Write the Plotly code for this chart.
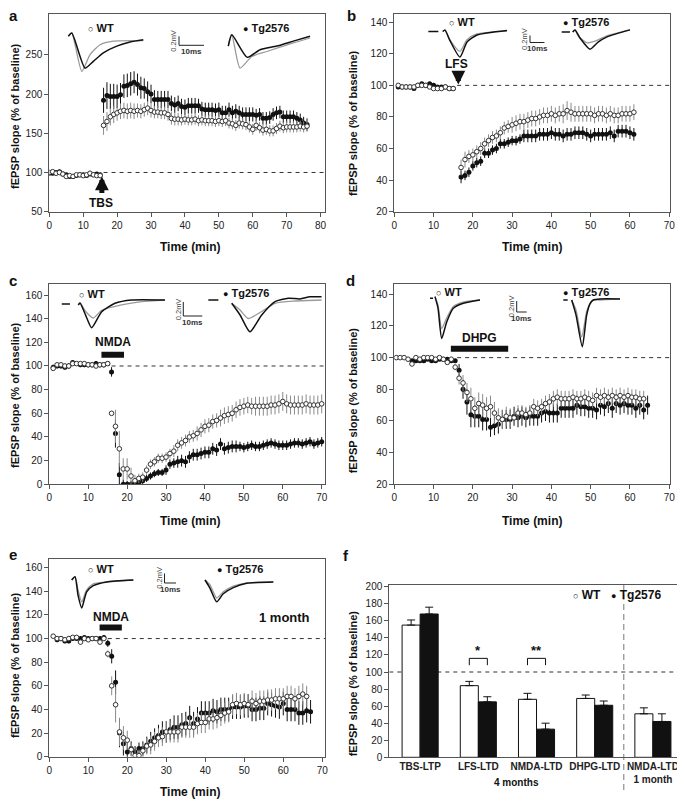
import plotly.graph_objects as go

PAGE_W, PAGE_H = 685, 801
OFF = 8  # default page body margin
W, H = PAGE_W - OFF, PAGE_H - OFF
FONT = "Liberation Sans, Arial, Helvetica, sans-serif"
INK = "#111111"
FRAME = "#555555"
GREY_ERR = "#8a8a8a"
GREY_TRACE = "#9a9a9a"

# ======================= DATA =======================
# ---- panel a : TBS-LTP (time in min, % of baseline) ----
a_t = list(range(0, 77))
a_wt = [100, 101, 99, 100, 98, 95, 96, 95, 97, 97, 96, 97, 99, 97, 96, 96,
        160, 165, 171, 174, 176, 178, 179, 178, 179, 178,
        179, 178, 180, 182, 179, 177, 177, 176, 176, 174,
        169, 168, 168, 167, 168, 167, 167, 168, 166, 167,
        166, 166, 166, 165, 166, 165, 166, 163, 162, 160,
        163, 162, 161, 158, 155, 160, 157, 154, 155, 153,
        153, 156, 159, 157, 158, 158, 158, 158, 159, 158,
        159]
a_wt_err = [2, 2, 2, 2, 2, 2, 2, 2, 2, 2, 2, 2, 2, 2, 2, 2,
            12, 12, 11, 11, 10, 10, 10, 10, 10, 10,
            9, 9, 9, 9, 9, 8, 8, 8, 8, 8,
            8, 8, 8, 7, 7, 7, 7, 7, 7, 7,
            7, 7, 7, 7, 7, 7, 7, 7, 7, 7,
            7, 7, 7, 7, 7, 7, 7, 7, 7, 7,
            7, 7, 7, 7, 7, 7, 7, 7, 7, 7,
            7]
a_tg = [99, 99, 100, 101, 98, 97, 95, 95, 96, 97, 97, 96, 98, 97, 98, 97,
        192, 198, 197, 197, 197, 199, 210, 211, 213, 215,
        212, 208, 207, 203, 200, 193, 193, 193, 193, 193,
        188, 186, 188, 184, 183, 185, 185, 185, 185, 181,
        180, 180, 180, 179, 180, 176, 176, 180, 176, 178,
        176, 174, 174, 174, 174, 173, 174, 169, 169, 170,
        174, 176, 177, 171, 171, 171, 171, 169, 167, 163,
        161]
a_tg_err = [2, 2, 2, 2, 2, 2, 2, 2, 2, 2, 2, 2, 2, 2, 2, 2,
            16, 17, 16, 16, 15, 15, 15, 15, 15, 14,
            14, 14, 13, 13, 12, 12, 11, 11, 11, 11,
            10, 10, 10, 10, 10, 10, 10, 10, 9, 9,
            9, 9, 9, 9, 9, 9, 9, 9, 9, 9,
            9, 9, 9, 9, 9, 8, 8, 8, 8, 8,
            8, 8, 8, 8, 8, 8, 8, 8, 8, 8,
            8]

# ---- panel b : LFS-LTD ----
b_t = list(range(1, 16)) + list(range(17, 62))
b_wt = [100, 99, 99, 99, 99, 100, 100, 100, 99, 98, 98, 98, 99, 98, 98,
        48, 53, 55, 56, 58, 60, 63, 65, 67, 68,
        70, 73, 74, 75, 76, 77, 77, 78, 79, 79,
        80, 81, 81, 82, 81, 82, 82, 84, 83, 82,
        82, 82, 82, 82, 81, 82, 82, 81, 82, 81,
        81, 82, 82, 82, 83]
b_wt_err = [1, 1, 1, 1, 1, 1, 1, 1, 1, 1, 1, 1, 1, 1, 1,
            5, 5, 4, 4, 4, 4, 4, 4, 4, 4,
            4, 4, 4, 5, 5, 5, 5, 5, 5, 5,
            5, 5, 5, 5, 5, 5, 6, 6, 6, 5,
            5, 5, 5, 5, 5, 5, 5, 5, 5, 5,
            5, 5, 5, 5, 5]
b_tg = [99, 99, 99, 99, 98, 100, 101, 100, 101, 100, 99, 99, 99, 98, 98,
        42, 43, 45, 49, 51, 52, 57, 57, 59, 60,
        63, 63, 64, 65, 65, 66, 68, 68, 68, 68,
        69, 69, 69, 70, 69, 69, 68, 69, 69, 70,
        70, 70, 69, 68, 69, 69, 69, 69, 70, 68,
        71, 71, 71, 70, 69]
b_tg_err = [1, 1, 1, 1, 1, 1, 1, 1, 1, 1, 1, 1, 1, 1, 1,
            4, 3, 3, 3, 3, 3, 3, 3, 3, 3,
            3, 3, 3, 3, 3, 3, 4, 4, 4, 4,
            4, 4, 4, 4, 4, 4, 4, 4, 4, 4,
            4, 4, 4, 4, 4, 4, 4, 4, 4, 4,
            4, 4, 4, 4, 4]

# ---- panel c : NMDA-LTD (4 months) ----
c_t = list(range(1, 71))
c_wt = [98, 101, 101, 100, 100, 102, 102, 102, 102, 101, 101, 100, 101, 101, 102,
        60, 49, 30, 13, 13, 7, 3, 5, 6, 12,
        17, 19, 22, 22, 23, 26, 28, 33, 35, 37,
        40, 41, 43, 46, 49, 50, 53, 54, 56, 58,
        59, 60, 63, 65, 66, 67, 66, 66, 66, 66,
        66, 67, 67, 68, 70, 68, 67, 67, 67, 67,
        68, 67, 67, 67, 68]
c_wt_err = [2, 2, 2, 2, 2, 2, 2, 2, 2, 2, 2, 2, 2, 2, 2,
            0, 14, 15, 9, 9, 7, 5, 4, 4, 4,
            4, 4, 4, 4, 4, 4, 5, 5, 5, 5,
            5, 5, 6, 6, 6, 6, 6, 6, 7, 7,
            7, 7, 7, 7, 7, 7, 7, 8, 8, 8,
            8, 8, 8, 8, 8, 8, 8, 8, 8, 8,
            8, 8, 8, 8, 8]
c_tg = [99, 100, 100, 99, 100, 103, 102, 101, 101, 101, 101, 102, 101, 101, 102,
        95, 43, 8, 0, 0, 0, 0, 1, 3, 5,
        7, 9, 10, 10, 12, 17, 18, 19, 20, 19,
        23, 25, 25, 26, 27, 27, 30, 29, 34, 30,
        31, 32, 32, 32, 31, 32, 33, 32, 32, 33,
        34, 35, 34, 33, 33, 33, 34, 35, 35, 34,
        35, 36, 34, 35, 36]
c_tg_err = [2, 2, 2, 2, 2, 2, 2, 2, 2, 2, 2, 2, 2, 2, 2,
            4, 12, 10, 4, 3, 3, 3, 3, 3, 3,
            3, 3, 3, 3, 4, 4, 4, 5, 5, 5,
            5, 5, 5, 5, 5, 5, 5, 5, 5, 5,
            5, 5, 5, 4, 4, 4, 4, 4, 4, 4,
            4, 4, 4, 4, 4, 4, 4, 4, 4, 4,
            4, 4, 4, 4, 4]

# ---- panel d : DHPG-LTD ----
d_wt_t = [0.5, 1.5, 2.5, 3.5, 4.5, 5.5, 6.5, 7.5, 8.5, 9.5, 10.5, 11.5, 12.5, 13.5, 14.5,
          15.5, 16.5, 17.5, 18.5, 19.5, 20.5, 21.5, 22.5, 23.5, 24.5,
          25.5, 26.5, 27.5, 28.5, 29.5, 30.5, 31.5, 32.5, 33.5, 34.5,
          35.5, 36.5, 37.5, 38.5, 39.5, 40.5, 41.5, 42.5, 43.5, 44.5,
          45.5, 46.5, 47.5, 48.5, 49.5, 50.5, 51.5, 52.5, 53.5, 54.5,
          55.5, 56.5, 57.5, 58.5, 59.5, 60.5, 61.5, 62.5, 63.5]
d_wt = [100, 100, 100, 99, 96, 100, 99, 100, 100, 100, 99, 100, 99, 97, 99,
        94, 87, 84, 78, 74, 68, 71, 70, 68, 69,
        65, 62, 61, 63, 62, 62, 65, 65, 64, 65,
        69, 68, 69, 71, 72, 74, 75, 74, 74, 74,
        75, 74, 74, 75, 74, 73, 76, 75, 76, 75,
        76, 75, 76, 75, 76, 75, 75, 74, 74]
d_wt_err = [1, 1, 1, 1, 1, 1, 1, 1, 1, 1, 1, 1, 1, 1, 1,
            2, 4, 5, 6, 7, 7, 7, 7, 7, 7,
            7, 6, 6, 6, 6, 5, 5, 5, 5, 5,
            5, 5, 5, 5, 5, 5, 5, 5, 5, 5,
            5, 5, 5, 5, 5, 5, 5, 5, 5, 5,
            5, 5, 5, 5, 5, 5, 5, 5, 5]
d_tg_t = [4.5, 5.5, 6.5, 7.5, 8.5, 9.5, 10.5, 11.5, 12.5, 13.5, 14.5, 15.5,
          16.5, 17.5, 18.5, 19.5, 20.5, 21.5, 22.5, 23.5, 24.5, 25.5,
          26.5, 27.5, 28.5, 29.5, 30.5, 31.5, 32.5, 33.5, 34.5, 35.5,
          36.5, 37.5, 38.5, 39.5, 40.5, 41.5, 42.5, 43.5, 44.5, 45.5,
          46.5, 47.5, 48.5, 49.5, 50.5, 51.5, 52.5, 53.5, 54.5, 55.5,
          56.5, 57.5, 58.5, 59.5, 60.5, 61.5, 62.5, 63.5, 64.5]
d_tg = [98, 98, 98, 98, 99, 98, 98, 99, 99, 99, 98, 98,
        92, 80, 72, 64, 63, 63, 61, 61, 56, 57,
        58, 61, 61, 61, 63, 62, 63, 62, 63, 63,
        63, 65, 66, 65, 65, 65, 68, 68, 68, 68,
        70, 69, 69, 68, 68, 67, 70, 69, 71, 68,
        71, 70, 71, 70, 70, 68, 70, 67, 70]
d_tg_err = [1, 1, 1, 1, 1, 1, 1, 1, 1, 1, 1, 1,
            4, 6, 8, 8, 7, 7, 7, 7, 6, 6,
            6, 6, 6, 6, 6, 6, 6, 6, 6, 6,
            6, 6, 6, 6, 6, 6, 6, 6, 6, 6,
            6, 6, 6, 6, 6, 6, 6, 6, 6, 6,
            6, 6, 6, 6, 6, 6, 6, 6, 6]

# ---- panel e : NMDA-LTD (1 month) ----
e_wt_t = list(range(1, 67))
e_wt = [102, 100, 100, 99, 100, 101, 101, 97, 100, 99, 100, 100, 97, 100,
        87, 60, 44, 21, 16, 14, 6, 1, 1, 5,
        9, 10, 13, 16, 17, 21, 21, 21, 21, 25,
        25, 25, 25, 28, 29, 29, 32, 32, 33, 35,
        37, 38, 44, 45, 44, 45, 44, 47, 45, 47,
        47, 48, 48, 49, 49, 49, 51, 51, 49, 51,
        53, 51]
e_wt_err = [2, 2, 2, 2, 2, 2, 2, 2, 2, 2, 2, 2, 2, 2,
            3, 8, 15, 12, 10, 8, 6, 5, 5, 6,
            7, 8, 8, 8, 8, 9, 9, 9, 9, 9,
            9, 9, 9, 9, 9, 9, 9, 9, 9, 9,
            9, 9, 9, 9, 9, 9, 9, 9, 9, 9,
            9, 9, 9, 9, 9, 9, 9, 9, 9, 9,
            9, 9]
e_tg_t = list(range(2, 68))
e_tg = [99, 100, 98, 98, 100, 100, 100, 101, 100, 100, 100, 100, 101,
        96, 85, 63, 20, 11, 4, 7, 4, 7, 7,
        10, 13, 16, 18, 21, 21, 23, 25, 25, 27,
        28, 33, 28, 32, 37, 37, 37, 39, 38, 40,
        40, 40, 42, 42, 42, 43, 43, 40, 40, 41,
        41, 45, 44, 43, 42, 45, 40, 40, 40, 37,
        37, 39, 38]
e_tg_err = [2, 2, 2, 2, 2, 2, 2, 2, 2, 2, 2, 2, 2,
            3, 6, 10, 12, 10, 8, 6, 5, 5, 6,
            7, 8, 8, 9, 9, 9, 9, 10, 10, 10,
            10, 10, 10, 10, 10, 10, 10, 10, 10, 10,
            10, 10, 10, 10, 10, 10, 10, 10, 10, 10,
            10, 10, 10, 10, 10, 10, 10, 10, 10, 10,
            10, 10, 10]

# ---- panel f : summary bars ----
f_categories = ["TBS-LTP", "LFS-LTD", "NMDA-LTD", "DHPG-LTD", "NMDA-LTD"]
f_wt = [155, 84, 68, 69, 51]
f_wt_err = [6, 5, 7, 4, 7]
f_tg = [168, 65, 33, 61, 42]
f_tg_err = [8, 6, 7, 5, 9]
f_sig_index = [1, 2]
f_sig_text = ["*", "**"]
f_sig_level = [116, 116]

# ---- stimulation / drug markers ----
tbs_time = 15.5
lfs_time = 16.3
nmda_c = [13.4, 19.2]
dhpg_d = [14.4, 29.0]
nmda_e = [12.9, 18.6]

# ---- inset fEPSP waveforms (t in ms from stimulus, v in mV from baseline) ----
A_WT_GRAY_T = [0, 1.4, 5.4, 8.7, 12.7, 18, 30]
A_WT_GRAY_V = [0.10, 0.17, -0.68, -0.31, -0.09, -0.01, 0]
A_WT_BLACK_T = [0, 1.4, 6.7, 10, 14, 19.4, 24.7, 30]
A_WT_BLACK_V = [0.10, 0.17, -0.61, -0.46, -0.27, -0.12, -0.03, 0.02]
A_TG_GRAY_T = [0, 1.4, 4.7, 9.4, 15.4, 26, 32.7]
A_TG_GRAY_V = [-0.12, 0.13, -0.61, -0.35, -0.24, -0.05, 0.06]
A_TG_BLACK_T = [0, 1.4, 7.6, 12.7, 19.4, 26, 32.7]
A_TG_BLACK_V = [-0.12, 0.13, -0.37, -0.2, -0.12, -0.01, 0.1]

B_WT_PRE_T = [-9.9, -3.0]
B_WT_PRE_V = [0, 0]
B_WT_GRAY_T = [0, 1.6, 5, 11.9, 16.6, 23.5, 44.2]
B_WT_GRAY_V = [0, 0.04, -0.24, -0.57, -0.24, -0.07, 0.02]
B_WT_BLACK_T = [0, 1.6, 5, 11.9, 16.8, 23.7, 44.4]
B_WT_BLACK_V = [0, 0.04, -0.26, -0.73, -0.3, -0.1, 0.03]
B_TG_PRE_T = [-7.6, -1.9]
B_TG_PRE_V = [0, 0]
B_TG_GRAY_T = [0, 1.6, 3.7, 9.9, 15.4, 23.7, 39.5]
B_TG_GRAY_V = [0, 0.06, -0.11, -0.31, -0.26, -0.11, 0.06]
B_TG_BLACK_T = [0, 1.6, 5, 11.9, 17.5, 23.7, 39.5]
B_TG_BLACK_V = [0, 0.06, -0.17, -0.49, -0.29, -0.14, 0.06]

C_WT_PRE_T = [-8.7, -4.4]
C_WT_PRE_V = [0, 0]
C_WT_GRAY_T = [0, 0.9, 4.0, 7.9, 12.3, 22.8, 33.4, 45.6]
C_WT_GRAY_V = [-0.014, 0.014, -0.11, -0.20, -0.09, -0.014, 0.033, 0.057]
C_WT_BLACK_T = [0, 0.9, 4.0, 7.0, 12.3, 19.3, 28.1, 45.6]
C_WT_BLACK_V = [-0.014, 0.014, -0.17, -0.34, -0.11, 0.01, 0.057, 0.057]
C_TG_PRE_T = [-12.3, -7.0]
C_TG_PRE_V = [0.014, 0.014]
C_TG_GRAY_T = [0, 4.4, 8.7, 15.8, 22.8, 33.3, 47.3]
C_TG_GRAY_V = [-0.033, -0.13, -0.25, -0.15, -0.033, 0, 0.014]
C_TG_BLACK_T = [0, 4.4, 9.6, 15.8, 22.8, 29.8, 35.9, 41.2, 47.3]
C_TG_BLACK_V = [-0.033, -0.2, -0.44, -0.2, -0.01, 0.04, 0.03, 0.06, 0.06]

D_WT_PRE_T = [-5, -2]
D_WT_PRE_V = [0, 0]
D_WT_GRAY_T = [0, 3, 6.7, 11.7, 18.3, 28, 45]
D_WT_GRAY_V = [0.03, -0.12, -0.55, -0.36, -0.15, -0.07, -0.03]
D_WT_BLACK_T = [0, 3, 6.7, 11.7, 18.3, 28.3, 45]
D_WT_BLACK_V = [0.03, -0.18, -0.73, -0.43, -0.18, -0.09, -0.03]
D_TG_PRE_T = [-8.4, -4]
D_TG_PRE_V = [0, 0]
D_TG_GRAY_T = [0, 4.3, 10, 15, 18.3, 21.6, 28.3, 48.3]
D_TG_GRAY_V = [0, -0.18, -0.67, -0.21, -0.06, 0, 0, 0.02]
D_TG_BLACK_T = [0, 4.3, 10.6, 15, 18.3, 21.6, 28.3, 48.3]
D_TG_BLACK_V = [0, -0.27, -0.85, -0.27, -0.07, 0, 0.02, 0.02]

E_WT_GRAY_T = [0, 2.9, 5.5, 8.7, 13, 18.8, 30.4, 53.6]
E_WT_GRAY_V = [0, 0.07, -0.21, -0.46, -0.21, -0.08, -0.04, 0]
E_WT_BLACK_T = [0, 2.9, 5.5, 8.7, 13, 18.8, 30.4, 53.6]
E_WT_BLACK_V = [0, 0.07, -0.32, -0.59, -0.25, -0.12, -0.04, 0]
E_TG_GRAY_T = [0, 4.3, 10.2, 15.9, 24.6, 36.3, 59.4]
E_TG_GRAY_V = [0, -0.1, -0.38, -0.25, -0.13, -0.06, -0.04]
E_TG_BLACK_T = [0, 4.3, 10.2, 15.9, 24.6, 36.3, 59.4]
E_TG_BLACK_V = [0, -0.17, -0.46, -0.29, -0.16, -0.07, -0.04]

# ======================= LAYOUT GEOMETRY (page pixels) =======================
boxes = {  # L, R, T, B
    'a': (49.3, 325, 14, 211.7),
    'b': (394.3, 670, 14, 211.7),
    'c': (49.3, 325, 284, 484.3),
    'd': (394.3, 670, 284, 484.3),
    'e': (49.3, 325, 559.3, 756.7),
    'f': (389.3, 682, 585, 757.3),
}
xranges = {'a': [0, 81.3], 'b': [0, 70.2], 'c': [0, 70.85], 'd': [0, 70.2],
           'e': [0, 70.7], 'f': [-0.53, 4.5]}
yranges = {'a': [50, 302], 'b': [20, 145.2], 'c': [0, 169.3], 'd': [20, 146.5],
           'e': [0, 167.1], 'f': [0, 202]}
yticks = {'a': [50, 100, 150, 200, 250], 'b': [20, 40, 60, 80, 100, 120, 140],
          'c': [0, 20, 40, 60, 80, 100, 120, 140, 160], 'd': [20, 40, 60, 80, 100, 120, 140],
          'e': [0, 20, 40, 60, 80, 100, 120, 140, 160],
          'f': [0, 20, 40, 60, 80, 100, 120, 140, 160, 180, 200]}
xticks = {'a': [0, 10, 20, 30, 40, 50, 60, 70, 80], 'b': [0, 10, 20, 30, 40, 50, 60, 70],
          'c': [0, 10, 20, 30, 40, 50, 60, 70], 'd': [0, 10, 20, 30, 40, 50, 60, 70],
          'e': [0, 10, 20, 30, 40, 50, 60, 70]}
ids = {'a': '', 'b': '2', 'c': '3', 'd': '4', 'e': '5', 'f': '6'}
ov_ids = {'a': '7', 'b': '8', 'c': '9', 'd': '10', 'e': '11'}
dash_start = {'a': 16, 'b': 16, 'c': 16, 'd': 16, 'e': 15}

inset_geo = {
    'a': dict(sb=(25, 9), wt=(68.3, 40.7), tg=(228.3, 40.7), bar=(179, 45.3)),
    'b': dict(sb=(14.5, 7), wt=(442.7, 31.5), tg=(572.7, 32), bar=(530, 42.5)),
    'c': dict(sb=(19, 14), wt=(78.3, 304), tg=(231.7, 301), bar=(183.3, 316)),
    'd': dict(sb=(10, 11), wt=(435, 298.3), tg=(571.7, 300), bar=(516.7, 312)),
    'e': dict(sb=(11.5, 9.5), wt=(71.7, 580), tg=(205, 580), bar=(164.5, 583)),
}
insets = {
    'a': dict(wt=[(A_WT_GRAY_T, A_WT_GRAY_V, 'g'), (A_WT_BLACK_T, A_WT_BLACK_V, 'k')],
              tg=[(A_TG_GRAY_T, A_TG_GRAY_V, 'g'), (A_TG_BLACK_T, A_TG_BLACK_V, 'k')]),
    'b': dict(wt=[(B_WT_PRE_T, B_WT_PRE_V, 'k'), (B_WT_GRAY_T, B_WT_GRAY_V, 'g'), (B_WT_BLACK_T, B_WT_BLACK_V, 'k')],
              tg=[(B_TG_PRE_T, B_TG_PRE_V, 'k'), (B_TG_GRAY_T, B_TG_GRAY_V, 'g'), (B_TG_BLACK_T, B_TG_BLACK_V, 'k')]),
    'c': dict(wt=[(C_WT_PRE_T, C_WT_PRE_V, 'k'), (C_WT_GRAY_T, C_WT_GRAY_V, 'g'), (C_WT_BLACK_T, C_WT_BLACK_V, 'k')],
              tg=[(C_TG_PRE_T, C_TG_PRE_V, 'k'), (C_TG_GRAY_T, C_TG_GRAY_V, 'g'), (C_TG_BLACK_T, C_TG_BLACK_V, 'k')]),
    'd': dict(wt=[(D_WT_PRE_T, D_WT_PRE_V, 'k'), (D_WT_GRAY_T, D_WT_GRAY_V, 'g'), (D_WT_BLACK_T, D_WT_BLACK_V, 'k')],
              tg=[(D_TG_PRE_T, D_TG_PRE_V, 'k'), (D_TG_GRAY_T, D_TG_GRAY_V, 'g'), (D_TG_BLACK_T, D_TG_BLACK_V, 'k')]),
    'e': dict(wt=[(E_WT_GRAY_T, E_WT_GRAY_V, 'g'), (E_WT_BLACK_T, E_WT_BLACK_V, 'k')],
              tg=[(E_TG_GRAY_T, E_TG_GRAY_V, 'g'), (E_TG_BLACK_T, E_TG_BLACK_V, 'k')]),
}
labels_px = {  # left x, center y of "o WT" and "* Tg2576"
    'a': ((86, 28), (241, 28)),
    'b': ((447, 22), (561, 22)),
    'c': ((77, 294), (221, 293)),
    'd': ((434, 292), (561, 292)),
    'e': ((86, 569), (215, 569)),
}


def px(x):
    return (x - OFF) / W


def py(y):
    return 1 - (y - OFF) / H


series = {
    'a': ((a_t, a_wt, a_wt_err), (a_t, a_tg, a_tg_err)),
    'b': ((b_t, b_wt, b_wt_err), (b_t, b_tg, b_tg_err)),
    'c': ((c_t, c_wt, c_wt_err), (c_t, c_tg, c_tg_err)),
    'd': ((d_wt_t, d_wt, d_wt_err), (d_tg_t, d_tg, d_tg_err)),
    'e': ((e_wt_t, e_wt, e_wt_err), (e_tg_t, e_tg, e_tg_err)),
}

fig = go.Figure()
layout = dict(width=W, height=H, margin=dict(l=0, r=0, t=0, b=0, autoexpand=False),
              paper_bgcolor='white', plot_bgcolor='rgba(0,0,0,0)', showlegend=False,
              font=dict(family=FONT, color=INK), barmode='group',
              bargap=0.38, bargroupgap=0)
annotations = []
shapes = []


def note(**kw):
    base = dict(showarrow=False, xanchor='center', yanchor='middle')
    base.update(kw)
    annotations.append(base)


# ---------- main axes ----------
for p in ['a', 'b', 'c', 'd', 'e', 'f']:
    L, R, T, B = boxes[p]
    i = ids[p]
    xa = dict(domain=[px(L), px(R)], range=xranges[p], anchor='y' + i,
              showline=True, mirror=True, linecolor=FRAME, linewidth=1,
              showgrid=False, zeroline=False, fixedrange=True,
              tickfont=dict(size=10, color='#222'))
    if p == 'f':
        xa.update(tickvals=[0, 1, 2, 3, 4], ticks='',
                  ticktext=['<b>%s</b>' % c for c in f_categories[:4]] +
                  ['<b>%s</b><br><b>1 month</b>' % f_categories[4]])
    else:
        xa.update(tickvals=xticks[p], ticks='outside', ticklen=4, tickcolor=FRAME)
    ya = dict(domain=[py(B), py(T)], range=yranges[p], anchor='x' + i,
              showline=True, mirror=True, linecolor=FRAME, linewidth=1,
              showgrid=False, zeroline=False, fixedrange=True,
              tickvals=yticks[p], ticks='outside', ticklen=4, tickcolor=FRAME,
              tickfont=dict(size=10, color='#222'))
    layout['xaxis' + i] = xa
    layout['yaxis' + i] = ya

# ---------- time-course panels ----------
for p in ['a', 'b', 'c', 'd', 'e']:
    i = ids[p]
    (wt_t, wt_v, wt_e), (tg_t, tg_v, tg_e) = series[p]
    fig.add_trace(go.Scatter(x=tg_t, y=tg_v, mode='markers', xaxis='x' + i, yaxis='y' + i,
                             marker=dict(symbol='circle', size=5, color=INK),
                             error_y=dict(type='data', array=tg_e, color=INK, thickness=1, width=0)))
    fig.add_trace(go.Scatter(x=wt_t, y=wt_v, mode='markers', xaxis='x' + i, yaxis='y' + i,
                             marker=dict(symbol='circle', size=4.6, color='white',
                                         line=dict(color='#333', width=1)),
                             error_y=dict(type='data', array=wt_e, color=GREY_ERR, thickness=1, width=0)))
    shapes.append(dict(type='line', xref='x' + i, yref='y' + i, x0=dash_start[p], x1=xranges[p][1],
                       y0=100, y1=100, line=dict(color='#333', width=1, dash='4px,4px'), layer='below'))

# stimulation / drug markers
annotations.append(dict(xref='x', yref='y', axref='x', ayref='y', x=tbs_time, y=95, ax=tbs_time, ay=72,
                        showarrow=True, arrowhead=2, arrowwidth=5, arrowsize=0.55, arrowcolor=INK, text=''))
note(xref='x', yref='y', x=tbs_time - 0.3, y=61, text='<b>TBS</b>', font=dict(size=12))
annotations.append(dict(xref='x2', yref='y2', axref='x2', ayref='y2', x=lfs_time, y=100.5, ax=lfs_time, ay=108.5,
                        showarrow=True, arrowhead=2, arrowwidth=5, arrowsize=0.55, arrowcolor=INK, text=''))
note(xref='x2', yref='y2', x=lfs_time - 0.4, y=113.5, text='<b>LFS</b>', font=dict(size=12))
for ax_i, rng, ylev, name, ytxt in [('3', nmda_c, 109.5, 'NMDA', 120), ('4', dhpg_d, 105.6, 'DHPG', 112.5),
                                   ('5', nmda_e, 109.4, 'NMDA', 118.5)]:
    fig.add_trace(go.Scatter(x=rng, y=[ylev, ylev], mode='lines', xaxis='x' + ax_i, yaxis='y' + ax_i,
                             line=dict(color=INK, width=6)))
    note(xref='x' + ax_i, yref='y' + ax_i, x=(rng[0] + rng[1]) / 2, y=ytxt,
         text='<b>%s</b>' % name, font=dict(size=12))
note(xref='x5', yref='y5', x=60.2, y=117.5, text='<b>1 month</b>', font=dict(size=13))

# ---------- insets (waveforms + scale bars) ----------
for p in ['a', 'b', 'c', 'd', 'e']:
    L, R, T, B = boxes[p]
    g = inset_geo[p]
    ms_px = 10.0 / g['sb'][0]
    mv_px = 0.2 / g['sb'][1]
    oi = ov_ids[p]
    layout['xaxis' + oi] = dict(domain=[px(L), px(R)], range=[0, (R - L) * ms_px], anchor='y' + oi,
                                visible=False, fixedrange=True)
    layout['yaxis' + oi] = dict(domain=[py(B), py(T)], range=[-(B - T) * mv_px, 0], anchor='x' + oi,
                                visible=False, fixedrange=True)
    for grp in ['wt', 'tg']:
        axp, ayp = g[grp]
        x0 = (axp - L) * ms_px
        y0 = -(ayp - T) * mv_px
        for tt, vv, col in insets[p][grp]:
            fig.add_trace(go.Scatter(x=[x0 + t for t in tt], y=[y0 + v for v in vv], mode='lines',
                                     xaxis='x' + oi, yaxis='y' + oi,
                                     line=dict(color=GREY_TRACE if col == 'g' else INK,
                                               width=1.3 if col == 'g' else 1.5,
                                               shape='spline', smoothing=0.6)))
    bx = (g['bar'][0] - L) * ms_px
    by = -(g['bar'][1] - T) * mv_px
    fig.add_trace(go.Scatter(x=[bx, bx, bx + 10], y=[by + 0.2, by, by], mode='lines',
                             xaxis='x' + oi, yaxis='y' + oi, line=dict(color='#222', width=1)))
    note(xref='x' + oi, yref='y' + oi, x=bx, y=by + 0.1, xshift=-5,
         text='0.2mV', textangle=-90, font=dict(size=7.5, color='#444'))
    note(xref='x' + oi, yref='y' + oi, x=bx + 5, y=by, yshift=-6,
         text='<b>10ms</b>', font=dict(size=8, color='#333'))
    (wx, wy), (tx, ty) = labels_px[p]
    note(xref='paper', yref='paper', x=px(wx), y=py(wy), xanchor='left',
         text="<span style='font-size:9px'>○</span> <b>WT</b>", font=dict(size=11))
    note(xref='paper', yref='paper', x=px(tx), y=py(ty), xanchor='left',
         text="<span style='font-size:9px'>●</span> <b>Tg2576</b>", font=dict(size=11))

# ---------- panel f ----------
fig.add_trace(go.Bar(x=[0, 1, 2, 3, 4], y=f_wt, xaxis='x6', yaxis='y6', offsetgroup='wt',
                     marker=dict(color='white', line=dict(color=INK, width=1)),
                     error_y=dict(type='data', array=f_wt_err, arrayminus=[0, 0, 0, 0, 0], symmetric=False,
                                  color=INK, thickness=1, width=4)))
fig.add_trace(go.Bar(x=[0, 1, 2, 3, 4], y=f_tg, xaxis='x6', yaxis='y6', offsetgroup='tg',
                     marker=dict(color=INK, line=dict(color=INK, width=1)),
                     error_y=dict(type='data', array=f_tg_err, arrayminus=[0, 0, 0, 0, 0], symmetric=False,
                                  color=INK, thickness=1, width=4)))
half = (1 - 0.38) / 4
for idx, txt, lev in zip(f_sig_index, f_sig_text, f_sig_level):
    fig.add_trace(go.Scatter(x=[idx - half, idx - half, idx + half, idx + half], y=[lev - 8, lev, lev, lev - 8],
                             mode='lines', xaxis='x6', yaxis='y6', line=dict(color=INK, width=1)))
    note(xref='x6', yref='y6', x=idx, y=lev + 9, text='<b>%s</b>' % txt, font=dict(size=13))
shapes.append(dict(type='line', xref='x6', yref='y6', x0=-0.53, x1=4.5, y0=100, y1=100,
                   line=dict(color='#333', width=1, dash='4px,4px'), layer='below'))
shapes.append(dict(type='line', xref='x6', yref='paper', x0=3.5, x1=3.5, y0=py(790), y1=py(585),
                   line=dict(color='#777', width=1, dash='6px,4px'), layer='below'))
note(xref='paper', yref='paper', x=px(516.7), y=py(782), text='<b>4 months</b>', font=dict(size=10))
note(xref='paper', yref='paper', x=px(571), y=py(595), xanchor='left',
     text="<span style='font-size:9px'>○</span> <b>WT</b>", font=dict(size=12))
note(xref='paper', yref='paper', x=px(609), y=py(595), xanchor='left',
     text="<span style='font-size:9px'>●</span> <b>Tg2576</b>", font=dict(size=12))

# ---------- axis titles and panel letters ----------
ytitle = '<b>fEPSP slope (% of baseline)</b>'
for p, (xc, yc) in {'a': (15, 116), 'b': (353, 123), 'c': (15, 395), 'd': (353.3, 400),
                    'e': (15, 665), 'f': (353.3, 683)}.items():
    note(xref='paper', yref='paper', x=px(xc), y=py(yc), text=ytitle, textangle=-90, font=dict(size=11))
for p, (xc, yc) in {'a': (190, 247), 'b': (531.7, 246.7), 'c': (190, 520.7), 'd': (531.7, 520.7),
                    'e': (190, 791.7)}.items():
    note(xref='paper', yref='paper', x=px(xc), y=py(yc), text='<b>Time (min)</b>', font=dict(size=12))
for p, (xc, yc) in {'a': (13, 15), 'b': (351, 15), 'c': (13, 281), 'd': (350, 280),
                    'e': (13, 554), 'f': (346, 555)}.items():
    note(xref='paper', yref='paper', x=px(xc), y=py(yc), text='<b>%s</b>' % p, font=dict(size=15))

layout['annotations'] = annotations
layout['shapes'] = shapes
fig.update_layout(**layout)
fig.write_html("out.html")
